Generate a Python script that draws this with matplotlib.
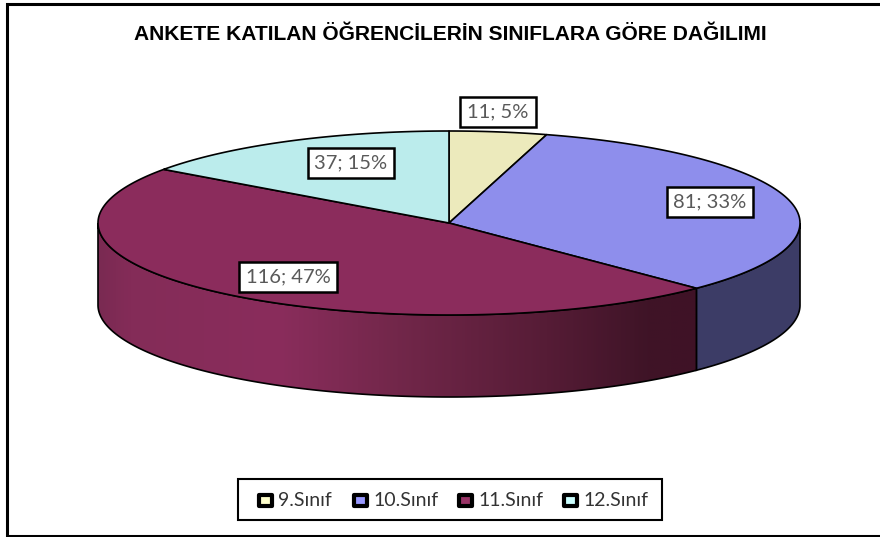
#!/usr/bin/env python

import numpy as np
import matplotlib
matplotlib.use("Agg")
import matplotlib.pyplot as plt
from matplotlib.colors import LinearSegmentedColormap
from matplotlib.patches import Polygon, Rectangle

title = "ANKETE KATILAN ÖĞRENCİLERİN SINIFLARA GÖRE DAĞILIMI"
categories = ["9.Sınıf", "10.Sınıf", "11.Sınıf", "12.Sınıf"]
values = [11, 81, 116, 37]
percents = [5, 33, 47, 15]
top_colors = ["#ECEABC", "#8E8EEC", "#8B2C5C", "#BBECEC"]
legend_colors = ["#FFFFCC", "#9999FF", "#993366", "#CCFFFF"]

cx, cy = 449, 223
rx, ry = 351, 92
depth = 82

def pt(t, dy=0):
  return np.column_stack([cx + rx*np.sin(t), cy - ry*np.cos(t) + dy])

fig = plt.figure(figsize=(8.8, 5.37), dpi=100)
ax = fig.add_axes([0, 0, 1, 1])
ax.set_xlim(0, 880)
ax.set_ylim(537, 0)
ax.axis("off")

# frame, open on the right
ax.plot([880, 7, 7, 880], [3.5, 3.5, 535.5, 535.5], color="black", lw=2.2, solid_joinstyle="miter")
ax.text(450, 35, title, ha="center", va="center", fontsize=15.1,
        fontweight="bold", family="Liberation Sans", color="black")

edges = np.cumsum([0] + values) / sum(values) * 2*np.pi

# side walls, only the front half of the ellipse shows
t10 = np.linspace(np.pi/2, edges[2], 100)
side10 = np.vstack([pt(t10), pt(t10[::-1], depth)])
ax.add_patch(Polygon(side10, fc="#3C3C66", ec="black", lw=1.2, zorder=2))

t11 = np.linspace(edges[2], 3*np.pi/2, 200)
side11 = np.vstack([pt(t11), pt(t11[::-1], depth)])
clip = Polygon(side11, fc="none", ec="black", lw=1.2, zorder=4)
ax.add_patch(clip)
cmap = LinearSegmentedColormap.from_list("side", [(0, "#7A2A52"), (0.05, "#842C58"), (0.3, "#8A2D5C"),
                                                 (0.5, "#72274A"), (0.75, "#561C36"), (0.92, "#3F1427"), (1, "#3F1226")])
im = ax.imshow(np.linspace(0, 1, 300)[None, :], cmap=cmap, extent=(cx - rx, pt(np.array([edges[2]]))[0, 0], 400, 170),
               aspect="auto", zorder=3)
im.set_clip_path(clip)
ax.set_xlim(0, 880)
ax.set_ylim(537, 0)

# top of the pie
for i in range(len(values)):
  t = np.linspace(edges[i], edges[i+1], 200)
  poly = np.vstack([[cx, cy], pt(t)])
  ax.add_patch(Polygon(poly, fc=top_colors[i], ec="black", lw=1.2, joinstyle="round", zorder=5))

# data labels
label_pos = [(498, 112), (710, 202), (288, 277), (351, 163)]
for v, p, (x, y) in zip(values, percents, label_pos):
  ax.text(x, y, "%d; %d%%" % (v, p), ha="center", va="center", fontsize=14.5, family="Lato",
          color="#595959", zorder=7,
          bbox=dict(boxstyle="square,pad=0.34", fc="white", ec="black", lw=1.8))

# legend
ax.add_patch(Rectangle((238, 479), 424, 41, fc="white", ec="black", lw=1.5, zorder=6))
legend_x = [259, 354, 459, 564]
for name, col, x in zip(categories, legend_colors, legend_x):
  ax.add_patch(Rectangle((x, 495), 13, 11, fc=col, ec="black", lw=3, joinstyle="round", zorder=7))
  ax.text(x + 19, 500, name, ha="left", va="center", fontsize=14, family="Lato", color="#333333", zorder=7)

fig.savefig("out.png", dpi=100)
